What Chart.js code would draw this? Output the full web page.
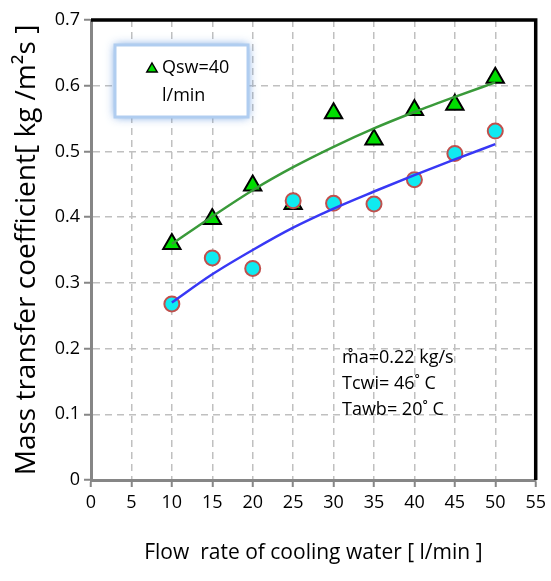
<!DOCTYPE html>
<html><head><meta charset="utf-8">
<script src="https://cdn.jsdelivr.net/npm/chart.js@4.4.0/dist/chart.umd.min.js"></script>
<style>html,body{margin:0;padding:0;background:#fff}#wrap{position:relative;width:551px;height:581px}</style>
</head><body><div id="wrap"><canvas id="c" width="551" height="581"></canvas></div>
<script>
const flowRates = [10, 15, 20, 25, 30, 35, 40, 45, 50];
const kTriangle = [0.359, 0.397, 0.448, 0.420, 0.558, 0.518, 0.563, 0.571, 0.612];
const kCircle = [0.268, 0.338, 0.322, 0.425, 0.421, 0.420, 0.457, 0.497, 0.531];
const trendTriangle = [0.359, 0.401, 0.441, 0.476, 0.507, 0.535, 0.560, 0.583, 0.605];
const trendCircle = [0.270, 0.313, 0.350, 0.384, 0.413, 0.439, 0.464, 0.488, 0.511];
const xTickLabels = ['0','5','10','15','20','25','30','35','40','45','50','55'];
const yTickLabels = ['0','0.1','0.2','0.3','0.4','0.5','0.6','0.7'];
const legendLines = ['Qsw=40', 'l/min'];
const noteLines = ['m\u030Aa=0.22 kg/s', 'Tcwi= 46\u02DA C', 'Tawb= 20\u02DA C'];
const xTitle = 'Flow  rate of cooling water [ l/min ]';
const yTitle = 'Mass transfer coefficient[ kg /m\u00B2s ]';

const FONT = '"Open Sans", Lato, sans-serif';
const pts = (xs, ys) => xs.map((x, i) => ({x: x, y: ys[i]}));

const frame = {
  id: 'frame',
  beforeDatasetsDraw(chart) {
    const {ctx, chartArea: a} = chart;
    ctx.save();
    ctx.strokeStyle = '#000';
    ctx.lineWidth = 3.5;
    ctx.beginPath();
    ctx.moveTo(a.left, a.top);
    ctx.lineTo(a.right, a.top);
    ctx.lineTo(a.right, a.bottom);
    ctx.stroke();
    ctx.restore();
  },
  afterDatasetsDraw(chart) {
    const {ctx} = chart;
    ctx.save();
    const bx = 115, by = 45, bw = 133, bh = 72;
    ctx.shadowColor = 'rgba(90,145,220,0.9)';
    ctx.shadowBlur = 9;
    ctx.fillStyle = '#fff';
    ctx.fillRect(bx, by, bw, bh);
    ctx.shadowBlur = 0;
    ctx.strokeStyle = '#b0cdf0';
    ctx.lineWidth = 3;
    ctx.strokeRect(bx, by, bw, bh);
    const tx = 152, ty = 69, r = 6;
    ctx.beginPath();
    ctx.moveTo(tx, ty - r);
    ctx.lineTo(tx + r * 0.866, ty + r / 2);
    ctx.lineTo(tx - r * 0.866, ty + r / 2);
    ctx.closePath();
    ctx.fillStyle = '#00dd00';
    ctx.fill();
    ctx.strokeStyle = '#000';
    ctx.lineWidth = 1.5;
    ctx.stroke();
    ctx.fillStyle = '#000';
    ctx.font = '18px ' + FONT;
    ctx.textBaseline = 'middle';
    ctx.textAlign = 'left';
    ctx.fillText(legendLines[0], 162, 68);
    ctx.fillText(legendLines[1], 162, 96);
    ctx.font = '18px ' + FONT;
    noteLines.forEach((t, i) => ctx.fillText(t, 342, 358 + i * 26));
    ctx.restore();
  }
};

new Chart(document.getElementById('c'), {
  type: 'scatter',
  data: {
    datasets: [
      { label: 'trend1', data: pts(flowRates, trendTriangle), showLine: true, pointRadius: 0,
        borderColor: '#3a9a3a', borderWidth: 2.5, cubicInterpolationMode: 'monotone', order: -1 },
      { label: 'trend2', data: pts(flowRates, trendCircle), showLine: true, pointRadius: 0,
        borderColor: '#3838f5', borderWidth: 2.5, cubicInterpolationMode: 'monotone', order: -1 },
      { label: 'circles', data: pts(flowRates, kCircle), pointStyle: 'circle', pointRadius: 7.5,
        backgroundColor: '#10eaf0', borderColor: '#c0504d', borderWidth: 2, order: 0 },
      { label: 'Qsw=40 l/min', data: pts(flowRates, kTriangle), pointStyle: 'triangle', pointRadius: 10,
        backgroundColor: '#00dd00', borderColor: '#000', borderWidth: 2, order: 1 }
    ]
  },
  options: {
    responsive: false,
    animation: false,
    layout: { padding: { top: 20, right: 13, left: 0, bottom: 0 } },
    plugins: { legend: { display: false }, tooltip: { enabled: false } },
    scales: {
      x: {
        type: 'linear', min: 0, max: 55,
        afterFit(s) { s.height = 101; },
        afterBuildTicks(s) { s.ticks = xTickLabels.map(v => ({value: +v})); },
        ticks: { color: '#000', padding: 5, font: { size: 18, family: FONT },
                 callback: (v, i) => xTickLabels[i] },
        grid: { color: '#c0c0c0', lineWidth: 1.5, tickColor: '#868686', tickLength: 7, tickWidth: 2, tickBorderDash: [] },
        border: { color: '#868686', width: 3, dash: [7, 5] },
        title: { display: true, text: xTitle, color: '#000', font: { size: 21, family: FONT }, padding: { top: 0, bottom: 15 } }
      },
      y: {
        type: 'linear', min: 0, max: 0.7,
        afterFit(s) { s.width = 91; },
        afterBuildTicks(s) { s.ticks = yTickLabels.map(v => ({value: +v})); },
        ticks: { color: '#000', padding: 4, font: { size: 18, family: FONT },
                 callback: (v, i) => yTickLabels[i] },
        grid: { color: '#c0c0c0', lineWidth: 1.5, tickColor: '#868686', tickLength: 7, tickWidth: 2, tickBorderDash: [] },
        border: { color: '#868686', width: 3, dash: [7, 5] },
        title: { display: true, text: yTitle, color: '#000', font: { size: 28, family: FONT }, padding: { top: 10, bottom: 0 } }
      }
    }
  },
  plugins: [frame]
});
</script></body></html>
